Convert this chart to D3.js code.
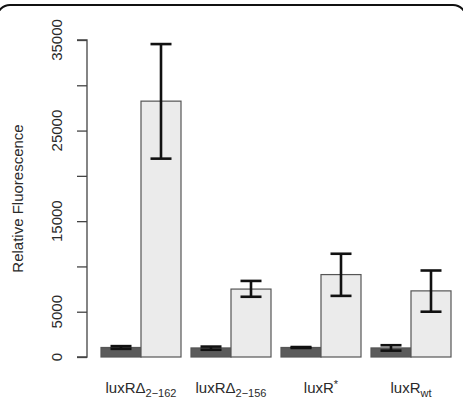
<!DOCTYPE html>
<html>
<head>
<meta charset="utf-8">
<script src="https://cdn.jsdelivr.net/npm/d3@7"></script>
<style>
  body { margin: 0; background: #fff; }
  text { font-family: "Liberation Sans", Arial, sans-serif; fill: #2a2a2a; }
</style>
</head>
<body>
<svg id="chart" width="463" height="402"></svg>
<script>
// categories: base name + sub/superscript part
const categories = ["luxRΔ2-162", "luxRΔ2-156", "luxR*", "luxRwt"]
const labelBase = ["luxRΔ", "luxRΔ", "luxR", "luxR"]
const labelScript = ["2\u2212162", "2\u2212156", "*", "wt"]
const labelIsSup = [false, false, true, false]

const series = ["uninduced", "induced"]
const uninduced = [1050, 1000, 1050, 1000]
const uninducedLo = [900, 800, 1000, 700]
const uninducedHi = [1200, 1150, 1100, 1300]
const induced = [28250, 7500, 9100, 7300]
const inducedLo = [21900, 6650, 6750, 5000]
const inducedHi = [34550, 8400, 11400, 9550]

const yTicks = d3.range(0, 35001, 5000)
const yTickLabels = [0, 5000, 15000, 25000, 35000]

const fills = ["#5b5b5b", "#ebebeb"]

const svg = d3.select("#chart")

// frame of the figure panel
svg.append("rect")
  .attr("x", -3).attr("y", 5)
  .attr("width", 469).attr("height", 420)
  .attr("rx", 13)
  .attr("fill", "none")
  .attr("stroke", "#111")
  .attr("stroke-width", 2)

const y = d3.scaleLinear().domain([0, 35000]).range([357, 40])
const x = d3.scaleBand().domain(categories).range([101, 451]).paddingInner(10 / 90)
const xs = d3.scaleBand().domain(series).range([0, x.bandwidth()])

// y axis
const yAxis = svg.append("g")
  .attr("transform", "translate(87,0)")
  .call(d3.axisLeft(y).tickValues(yTicks).tickSize(10).tickFormat(""))
yAxis.select(".domain").attr("stroke", "#444").attr("stroke-width", 1.3).attr("d", `M-10,${y(0)}H0V${y(35000)}H-10`)
yAxis.selectAll(".tick line").attr("stroke", "#444").attr("stroke-width", 1.3)

svg.append("g").selectAll("text")
  .data(yTickLabels)
  .join("text")
  .attr("transform", d => `translate(62,${y(d)}) rotate(-90)`)
  .attr("text-anchor", "middle")
  .attr("font-size", 15)
  .text(d => d)

svg.append("text")
  .attr("transform", `translate(23,${(y(0) + y(35000)) / 2}) rotate(-90)`)
  .attr("text-anchor", "middle")
  .attr("font-size", 15)
  .text("Relative Fluorescence")

// bars
const rows = categories.map((c, i) => [
  { cat: c, s: "uninduced", v: uninduced[i], lo: uninducedLo[i], hi: uninducedHi[i] },
  { cat: c, s: "induced", v: induced[i], lo: inducedLo[i], hi: inducedHi[i] }
]).flat()

svg.append("g").selectAll("rect")
  .data(rows)
  .join("rect")
  .attr("x", d => x(d.cat) + xs(d.s))
  .attr("y", d => y(d.v))
  .attr("width", xs.bandwidth())
  .attr("height", d => y(0) - y(d.v))
  .attr("fill", (d, i) => fills[i % 2])
  .attr("stroke", "#555")
  .attr("stroke-width", 1.2)

// error bars
const cap = 10.5
const err = svg.append("g").attr("stroke", "#111").attr("stroke-width", 2.6)
rows.forEach(d => {
  const cx = x(d.cat) + xs(d.s) + xs.bandwidth() / 2
  err.append("line").attr("x1", cx).attr("x2", cx).attr("y1", y(d.lo)).attr("y2", y(d.hi))
  err.append("line").attr("x1", cx - cap).attr("x2", cx + cap).attr("y1", y(d.hi)).attr("y2", y(d.hi))
  err.append("line").attr("x1", cx - cap).attr("x2", cx + cap).attr("y1", y(d.lo)).attr("y2", y(d.lo))
})

// x labels
const lab = svg.append("g").selectAll("text")
  .data(categories)
  .join("text")
  .attr("x", d => x(d) + x.bandwidth() / 2)
  .attr("y", 393)
  .attr("text-anchor", "middle")
  .attr("font-size", 15)
lab.append("tspan").text((d, i) => labelBase[i])
lab.append("tspan")
  .attr("font-size", 11)
  .attr("dy", (d, i) => labelIsSup[i] ? -5 : 4)
  .text((d, i) => labelScript[i])
</script>
</body>
</html>
